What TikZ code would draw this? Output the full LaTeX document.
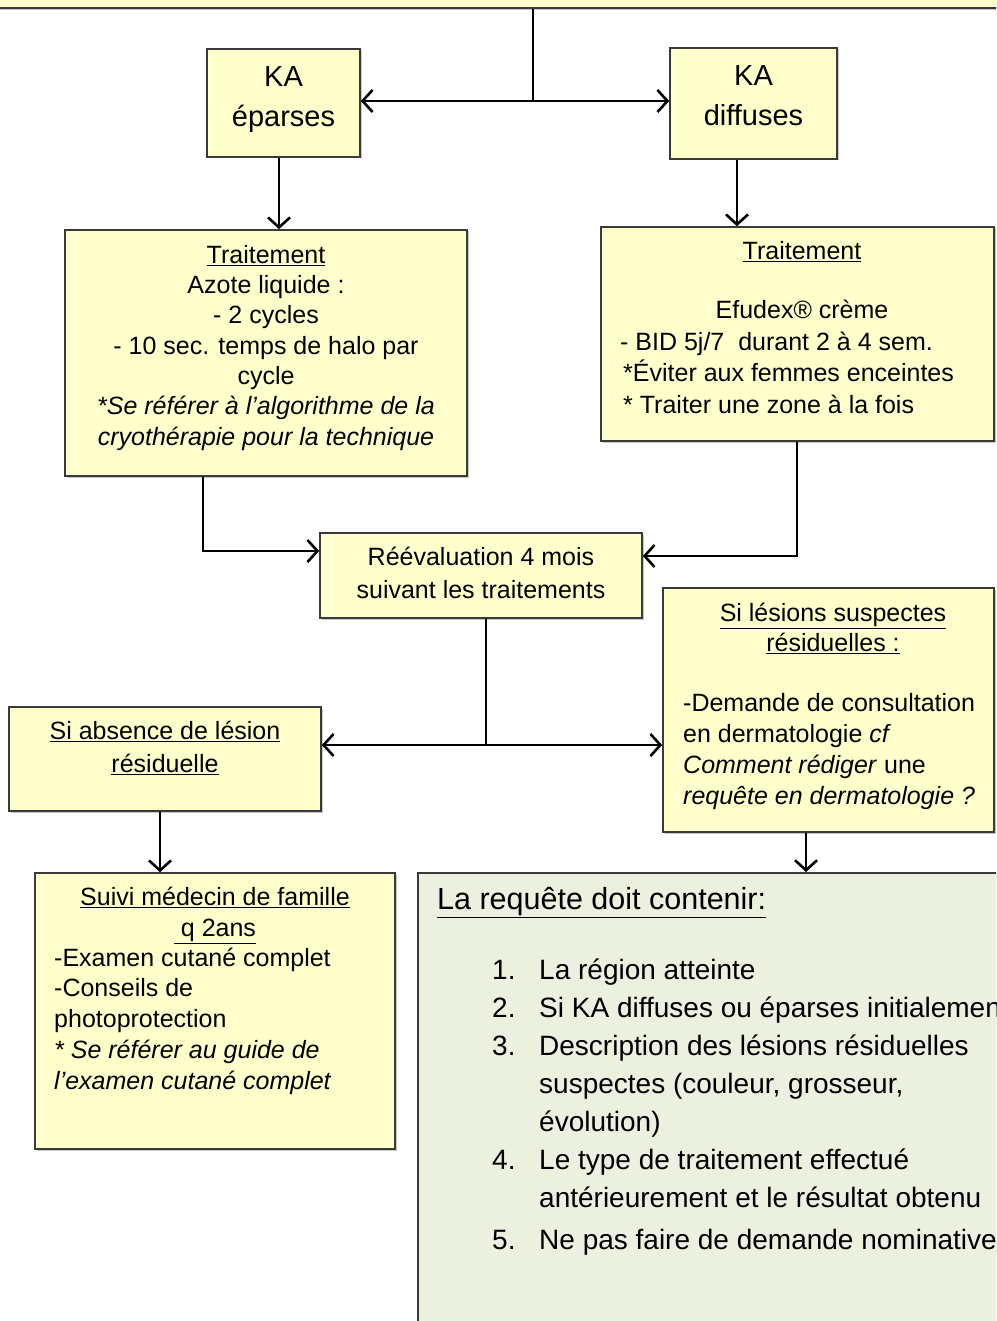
\documentclass[tikz,border=0pt]{standalone}
\usepackage{fontspec}
\setmainfont{Liberation Sans}
\usetikzlibrary{arrows.meta,shadows}
\definecolor{yel}{HTML}{FFFFCC}
\definecolor{grn}{HTML}{EBF1DE}
\definecolor{bord}{HTML}{3A3A3A}
\newcommand\fl{\rule{0pt}{24pt}}
\begin{document}
\begin{tikzpicture}[x=1pt,y=-1pt,
  box/.style={draw=bord,line width=1.6pt,fill=yel,inner sep=0pt,
    drop shadow={shadow xshift=1.5pt,shadow yshift=-1.5pt,opacity=0.45,fill=gray}},
  boxg/.style={box,fill=grn},
  txt/.style={inner sep=0pt,anchor=north,align=center,font=\fontsize{25}{30.3}\selectfont},
  txtl/.style={inner sep=0pt,anchor=north west,align=left,font=\fontsize{25}{30.5}\selectfont},
  one/.style={inner sep=0pt,anchor=base,font=\fontsize{25}{30}\selectfont},
  ln/.style={line width=2pt},
  arr/.style={line width=2.6pt,-{Straight Barb[length=10pt,width=22pt,line width=2.6pt]}}]
\useasboundingbox (0,0) rectangle (996,1321);
\clip (0,0) rectangle (996,1321);

% boxes
\node[box,minimum width=1030pt,minimum height=60pt,anchor=south] (top) at (498,9) {};
\node[box,minimum width=153pt,minimum height=108pt] (kae) at (283.5,103) {};
\node[box,minimum width=167pt,minimum height=111pt] (kad) at (753.5,103.5) {};
\node[box,minimum width=402pt,minimum height=246pt] (trL) at (266,353) {};
\node[box,minimum width=393pt,minimum height=214pt] (trR) at (797.5,334) {};
\node[box,minimum width=322pt,minimum height=85pt] (reev) at (481,575.5) {};
\node[box,minimum width=331pt,minimum height=244pt] (sil) at (828.5,710) {};
\node[box,minimum width=312pt,minimum height=104pt] (sia) at (165,759) {};
\node[box,minimum width=360pt,minimum height=276pt] (suivi) at (215,1011) {};
\node[boxg,minimum width=600pt,minimum height=480pt,anchor=north west] (req) at (417,872) {};

% texts
\node[txt,font=\fontsize{29}{40}\selectfont] (kaet) at (283.5,58.5) {\rule{0pt}{28pt}KA\\éparses};
\node[txt,font=\fontsize{29}{40}\selectfont] (kadt) at (753.5,57.5) {\rule{0pt}{28pt}KA\\diffuses};

\node[txt] (trLt) at (266,239) {\fl\underline{Traitement}\\Azote liquide :\\- 2 cycles\\- 10 sec. temps de halo par\\cycle\\\textit{*Se référer à l’algorithme de la}\\\textit{cryothérapie pour la technique}};

\node[one] (trRt) at (802,260) {\underline{Traitement}};
\node[one] (trRe) at (802,319) {Efudex® crème};
\node[txtl,font=\fontsize{25}{31.5}\selectfont] (trRb) at (620,326) {\fl- BID 5j/7~~durant 2 à 4 sem.\\\hspace*{3pt}*Éviter aux femmes enceintes\\\hspace*{3pt}* Traiter une zone à la fois};

\node[txt,font=\fontsize{25}{33}\selectfont] (reevt) at (481,541) {\fl Réévaluation 4 mois\\suivant les traitements};

\node[txt] (silt) at (833,597) {\fl\underline{Si lésions suspectes}\\\underline{résiduelles :}};
\node[txtl,font=\fontsize{25}{31}\selectfont] (silb) at (683,687) {\fl-Demande de consultation\\en dermatologie \textit{cf}\\\textit{Comment rédiger} une\\\textit{requête en dermatologie ?}};

\node[txt,font=\fontsize{25}{33}\selectfont] (siat) at (165,715) {\fl\underline{Si absence de lésion}\\\underline{résiduelle}};

\node[txt,font=\fontsize{25}{31}\selectfont] (suivit) at (215,881) {\fl\underline{Suivi médecin de famille}\\\underline{~q 2ans}};
\node[txtl,font=\fontsize{25}{30.7}\selectfont] (suivib) at (54,942) {\fl-Examen cutané complet\\-Conseils de\\photoprotection\\\textit{* Se référer au guide de}\\\textit{l’examen cutané complet}};

\node[one,anchor=base west,font=\fontsize{30.5}{36}\selectfont] (reqt) at (437,909) {\underline{La requête doit contenir:}};
\node[txtl,font=\fontsize{28}{38}\selectfont] (reql) at (492,955) {\fl\makebox[47pt][l]{1.}La région atteinte\\
\makebox[47pt][l]{2.}Si KA diffuses ou éparses initialement\\
\makebox[47pt][l]{3.}Description des lésions résiduelles\\
\hspace*{47pt}suspectes (couleur, grosseur,\\
\hspace*{47pt}évolution)\\
\makebox[47pt][l]{4.}Le type de traitement effectué\\
\hspace*{47pt}antérieurement et le résultat obtenu\\[4pt]
\makebox[47pt][l]{5.}Ne pas faire de demande nominative};

% connectors
\coordinate (s1) at (533,101);
\coordinate (xa) at (279,0);
\coordinate (xb) at (737,0);
\coordinate (j1) at (203,551);
\coordinate (j2) at (797,556);
\coordinate (j3) at (486,745);
\coordinate (xc) at (160,0);
\coordinate (xd) at (806,0);

\draw[ln] (top.south -| s1) -- (s1);
\draw[arr] (s1) -- (s1 -| kae.east);
\draw[arr] (s1) -- (s1 -| kad.west);
\draw[arr] (kae.south -| xa) -- (trL.north -| xa);
\draw[arr] (kad.south -| xb) -- (trR.north -| xb);
\draw[arr] (trL.south -| j1) -- (j1) -- (j1 -| reev.west);
\draw[arr] (trR.south -| j2) -- (j2) -- (j2 -| reev.east);
\draw[ln] (reev.south -| j3) -- (j3);
\draw[arr] (j3) -- (j3 -| sia.east);
\draw[arr] (j3) -- (j3 -| sil.west);
\draw[arr] (sia.south -| xc) -- (suivi.north -| xc);
\draw[arr] (sil.south -| xd) -- (req.north -| xd);
\end{tikzpicture}
\end{document}
